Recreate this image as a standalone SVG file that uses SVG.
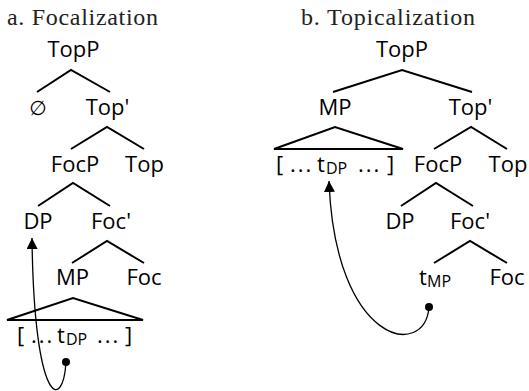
<svg xmlns="http://www.w3.org/2000/svg" width="529" height="391" viewBox="0 0 529 391">
<style>
.t{font-family:"Open Sans","Noto Sans","DejaVu Sans",sans-serif;font-size:22px;fill:#000;text-anchor:middle}
.s{text-anchor:start}
.sub{font-size:16px}
.dots{letter-spacing:2px}
.title{font-family:"Liberation Serif","DejaVu Serif",serif;font-size:24px;fill:#222}
.br{stroke:#000;stroke-width:2;fill:none;stroke-linecap:butt}
.mv{stroke:#000;stroke-width:1.3;fill:none}
</style>
<defs>
<marker id="ah" viewBox="0 0 10 10" refX="10" refY="5" markerWidth="11" markerHeight="11" markerUnits="userSpaceOnUse" orient="auto">
<path d="M0,0 L10,5 L0,10 z" fill="#000"/>
</marker>
</defs>
<text class="title" x="7" y="25" textLength="151" lengthAdjust="spacing">a. Focalization</text>
<text class="title" x="301" y="25" textLength="174" lengthAdjust="spacing">b. Topicalization</text>
<g id="treeA">
<g id="a-TopP"><text class="t" x="73.5" y="57">TopP</text></g>
<g id="a-null"><text class="t" x="38" y="115" style="font-size:20px">∅</text></g>
<g id="a-TopBar"><text class="t" x="107.5" y="115">Top'</text></g>
<g id="a-FocP"><text class="t" x="75" y="172">FocP</text></g>
<g id="a-Top"><text class="t" x="144.5" y="172">Top</text></g>
<g id="a-DP"><text class="t" x="38" y="229">DP</text></g>
<g id="a-FocBar"><text class="t" x="111" y="229">Foc'</text></g>
<g id="a-MP"><text class="t" x="72.5" y="285">MP</text></g>
<g id="a-Foc"><text class="t" x="144" y="285">Foc</text></g>
<g id="a-clause"><text class="t s" y="343"><tspan x="17">[</tspan><tspan x="31" class="dots">...</tspan><tspan x="57">t</tspan><tspan x="66" dy="2" class="sub">DP</tspan><tspan x="97" dy="-2" class="dots">...</tspan><tspan x="125">]</tspan></text></g>
</g>
<g id="treeB">
<g id="b-TopP"><text class="t" x="402" y="57">TopP</text></g>
<g id="b-MP"><text class="t" x="335" y="115">MP</text></g>
<g id="b-TopBar"><text class="t" x="470.5" y="115">Top'</text></g>
<g id="b-clause"><text class="t s" y="172"><tspan x="276">[</tspan><tspan x="290" class="dots">...</tspan><tspan x="317">t</tspan><tspan x="326" dy="2" class="sub">DP</tspan><tspan x="358" dy="-2" class="dots">...</tspan><tspan x="387">]</tspan></text></g>
<g id="b-FocP"><text class="t" x="438" y="172">FocP</text></g>
<g id="b-Top"><text class="t" x="508" y="172">Top</text></g>
<g id="b-DP"><text class="t" x="400" y="229">DP</text></g>
<g id="b-FocBar"><text class="t" x="470" y="229">Foc'</text></g>
<g id="b-tMP"><text class="t s" y="285"><tspan x="419">t</tspan><tspan x="427" dy="2" class="sub">MP</tspan></text></g>
<g id="b-Foc"><text class="t" x="507" y="285">Foc</text></g>
</g>
<g id="connectors">
<path class="br" d="M37,92 L71,70 L110,92"/>
<path class="br" d="M71,149 L107,127 L144,149"/>
<path class="br" d="M38,206 L73,183 L110,206"/>
<path class="br" d="M72,263 L107,241 L144,263"/>
<path class="br" d="M7,320 L73,298 L143,320 Z"/>
<path class="br" d="M333,92 L402,70 L472,92"/>
<path class="br" d="M274,149 L335,127 L403,149 Z"/>
<path class="br" d="M434,149 L471,127 L507,149"/>
<path class="br" d="M401,206 L436,183 L473,206"/>
<path class="br" d="M434,263 L470,241 L507,263"/>
<circle cx="66" cy="362" r="4" fill="#000"/>
<path class="mv" d="M66,362 C63,412 34,407 32,238" marker-end="url(#ah)"/>
<circle cx="429" cy="307" r="4" fill="#000"/>
<path class="mv" d="M429,307 C425,360 335,345 329,181" marker-end="url(#ah)"/>
</g>
</svg>
